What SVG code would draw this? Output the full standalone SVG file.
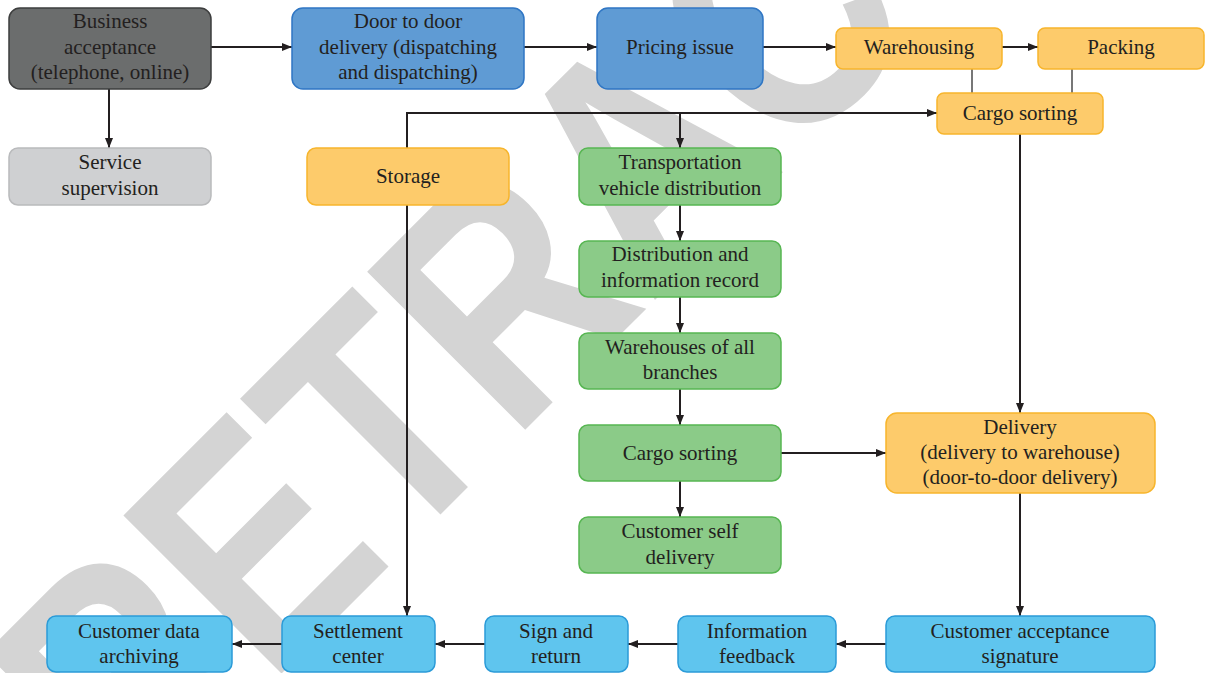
<svg xmlns="http://www.w3.org/2000/svg" width="1207" height="673" viewBox="0 0 1207 673">
  <defs>
    <marker id="arrow" viewBox="0 0 10 8" refX="10" refY="4" markerWidth="10" markerHeight="8" markerUnits="userSpaceOnUse" orient="auto">
      <path d="M0,0 L10,4 L0,8 Z" fill="#231f20"/>
    </marker>
    <style>
      .box { stroke-width: 1.5; }
      .dark { fill: #6b6d6d; stroke: #3d3e3e; }
      .grey { fill: #cfd0d2; stroke: #b9babc; }
      .blue { fill: #5f9bd4; stroke: #2f76c4; }
      .amber { fill: #fdcb6b; stroke: #f7b52c; }
      .green { fill: #8bcb88; stroke: #57b652; }
      .sky { fill: #5fc5ee; stroke: #2b9bd8; }
      .label { font-family: "Liberation Serif", "Times New Roman", serif; font-size: 21px; fill: #231f20; text-anchor: middle; dominant-baseline: central; }
      .link { fill: none; stroke: #231f20; stroke-width: 2; }
      .tie { fill: none; stroke: #4a4a4a; stroke-width: 1.5; }
      .stamp { font-family: "Liberation Sans", Arial, sans-serif; font-weight: bold; font-size: 325px; fill: #d4d4d4; }
    </style>
  </defs>

  <rect width="1207" height="673" fill="#ffffff"/>

  <!-- diagonal stamp behind the chart -->
  <text class="stamp" transform="translate(131,824) rotate(-45) scale(0.83,1)">RETRACTED</text>

  <!-- connectors -->
  <g id="connectors">
    <line class="link" x1="211" y1="47" x2="292" y2="47" marker-end="url(#arrow)"/>
    <line class="link" x1="109" y1="89" x2="109" y2="148" marker-end="url(#arrow)"/>
    <line class="link" x1="524" y1="47" x2="597" y2="47" marker-end="url(#arrow)"/>
    <line class="link" x1="763" y1="47" x2="836" y2="47" marker-end="url(#arrow)"/>
    <line class="link" x1="1002" y1="47" x2="1038" y2="47" marker-end="url(#arrow)"/>
    <line class="tie" x1="972" y1="69" x2="972" y2="93"/>
    <line class="tie" x1="1072" y1="69" x2="1072" y2="93"/>
    <polyline class="link" points="407,148 407,113 937,113" marker-end="url(#arrow)"/>
    <line class="link" x1="680" y1="113" x2="680" y2="148" marker-end="url(#arrow)"/>
    <line class="link" x1="407" y1="205" x2="407" y2="616" marker-end="url(#arrow)"/>
    <line class="link" x1="680" y1="205" x2="680" y2="241" marker-end="url(#arrow)"/>
    <line class="link" x1="680" y1="297" x2="680" y2="333" marker-end="url(#arrow)"/>
    <line class="link" x1="680" y1="389" x2="680" y2="425" marker-end="url(#arrow)"/>
    <line class="link" x1="680" y1="481" x2="680" y2="517" marker-end="url(#arrow)"/>
    <line class="link" x1="781" y1="453" x2="886" y2="453" marker-end="url(#arrow)"/>
    <line class="link" x1="1020" y1="134" x2="1020" y2="413" marker-end="url(#arrow)"/>
    <line class="link" x1="1020" y1="493" x2="1020" y2="616" marker-end="url(#arrow)"/>
    <line class="link" x1="886" y1="644" x2="836" y2="644" marker-end="url(#arrow)"/>
    <line class="link" x1="678" y1="644" x2="628" y2="644" marker-end="url(#arrow)"/>
    <line class="link" x1="485" y1="644" x2="435" y2="644" marker-end="url(#arrow)"/>
    <line class="link" x1="282" y1="644" x2="232" y2="644" marker-end="url(#arrow)"/>
  </g>

  <!-- nodes -->
  <g id="business-acceptance">
    <rect class="box dark" x="9" y="8" width="202" height="81" rx="11"/>
    <text class="label" x="110" y="21">Business</text>
    <text class="label" x="110" y="47">acceptance</text>
    <text class="label" x="110" y="72">(telephone, online)</text>
  </g>
  <g id="service-supervision">
    <rect class="box grey" x="9" y="148" width="202" height="57" rx="9"/>
    <text class="label" x="110" y="162">Service</text>
    <text class="label" x="110" y="188">supervision</text>
  </g>
  <g id="door-to-door">
    <rect class="box blue" x="292" y="8" width="232" height="81" rx="11"/>
    <text class="label" x="408" y="21">Door to door</text>
    <text class="label" x="408" y="47">delivery (dispatching</text>
    <text class="label" x="408" y="72">and dispatching)</text>
  </g>
  <g id="pricing-issue">
    <rect class="box blue" x="597" y="8" width="166" height="81" rx="11"/>
    <text class="label" x="680" y="47">Pricing issue</text>
  </g>
  <g id="warehousing">
    <rect class="box amber" x="836" y="28" width="166" height="41" rx="7"/>
    <text class="label" x="919" y="47">Warehousing</text>
  </g>
  <g id="packing">
    <rect class="box amber" x="1038" y="28" width="166" height="41" rx="7"/>
    <text class="label" x="1121" y="47">Packing</text>
  </g>
  <g id="cargo-sorting-main">
    <rect class="box amber" x="937" y="93" width="166" height="41" rx="7"/>
    <text class="label" x="1020" y="113">Cargo sorting</text>
  </g>
  <g id="storage">
    <rect class="box amber" x="307" y="148" width="202" height="57" rx="9"/>
    <text class="label" x="408" y="176">Storage</text>
  </g>
  <g id="vehicle-distribution">
    <rect class="box green" x="579" y="148" width="202" height="57" rx="9"/>
    <text class="label" x="680" y="162">Transportation</text>
    <text class="label" x="680" y="188">vehicle distribution</text>
  </g>
  <g id="distribution-record">
    <rect class="box green" x="579" y="241" width="202" height="56" rx="9"/>
    <text class="label" x="680" y="254">Distribution and</text>
    <text class="label" x="680" y="280">information record</text>
  </g>
  <g id="branch-warehouses">
    <rect class="box green" x="579" y="333" width="202" height="56" rx="9"/>
    <text class="label" x="680" y="347">Warehouses of all</text>
    <text class="label" x="680" y="372">branches</text>
  </g>
  <g id="cargo-sorting-branch">
    <rect class="box green" x="579" y="425" width="202" height="56" rx="9"/>
    <text class="label" x="680" y="453">Cargo sorting</text>
  </g>
  <g id="self-delivery">
    <rect class="box green" x="579" y="517" width="202" height="56" rx="9"/>
    <text class="label" x="680" y="531">Customer self</text>
    <text class="label" x="680" y="557">delivery</text>
  </g>
  <g id="delivery">
    <rect class="box amber" x="886" y="413" width="269" height="80" rx="11"/>
    <text class="label" x="1020" y="427">Delivery</text>
    <text class="label" x="1020" y="452">(delivery to warehouse)</text>
    <text class="label" x="1020" y="477">(door-to-door delivery)</text>
  </g>
  <g id="acceptance-signature">
    <rect class="box sky" x="886" y="616" width="269" height="56" rx="9"/>
    <text class="label" x="1020" y="631">Customer acceptance</text>
    <text class="label" x="1020" y="656">signature</text>
  </g>
  <g id="information-feedback">
    <rect class="box sky" x="678" y="616" width="158" height="56" rx="9"/>
    <text class="label" x="757" y="631">Information</text>
    <text class="label" x="757" y="656">feedback</text>
  </g>
  <g id="sign-and-return">
    <rect class="box sky" x="485" y="616" width="143" height="56" rx="9"/>
    <text class="label" x="556" y="631">Sign and</text>
    <text class="label" x="556" y="656">return</text>
  </g>
  <g id="settlement-center">
    <rect class="box sky" x="282" y="616" width="153" height="56" rx="9"/>
    <text class="label" x="358" y="631">Settlement</text>
    <text class="label" x="358" y="656">center</text>
  </g>
  <g id="data-archiving">
    <rect class="box sky" x="47" y="616" width="185" height="56" rx="9"/>
    <text class="label" x="139" y="631">Customer data</text>
    <text class="label" x="139" y="656">archiving</text>
  </g>
</svg>
